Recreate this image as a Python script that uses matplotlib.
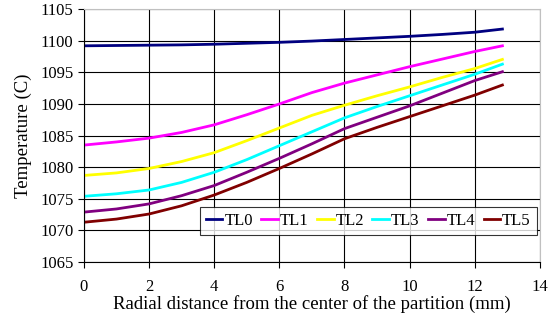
import matplotlib
matplotlib.use("Agg")
import matplotlib.pyplot as plt

plt.rcParams['font.family'] = ['Liberation Serif', 'DejaVu Serif']

# Radial distance (mm) and temperature series
x = [0, 1, 2, 3, 4, 5, 6, 7, 8, 9, 10, 11, 12, 12.85]
series = {
    "TL0": [1099.2, 1099.25, 1099.3, 1099.35, 1099.45, 1099.6, 1099.75, 1099.95, 1100.2, 1100.45, 1100.7, 1101.0, 1101.35, 1101.85],
    "TL1": [1083.5, 1084.0, 1084.6, 1085.5, 1086.7, 1088.3, 1090.0, 1091.8, 1093.3, 1094.6, 1095.9, 1097.1, 1098.3, 1099.2],
    "TL2": [1078.7, 1079.1, 1079.8, 1080.9, 1082.3, 1084.2, 1086.2, 1088.2, 1089.8, 1091.3, 1092.7, 1094.2, 1095.6, 1097.05],
    "TL3": [1075.4, 1075.8, 1076.4, 1077.6, 1079.2, 1081.2, 1083.4, 1085.6, 1087.8, 1089.6, 1091.3, 1093.0, 1094.7, 1096.3],
    "TL4": [1072.9, 1073.4, 1074.2, 1075.5, 1077.1, 1079.2, 1081.4, 1083.7, 1086.1, 1087.9, 1089.7, 1091.7, 1093.7, 1095.1],
    "TL5": [1071.3, 1071.8, 1072.6, 1073.9, 1075.6, 1077.6, 1079.8, 1082.1, 1084.5, 1086.3, 1088.0, 1089.7, 1091.4, 1093.0],
}
colors = ['#000080', '#FF00FF', '#FFFF00', '#00FFFF', '#800080', '#800000']

fig = plt.figure(figsize=(5.52, 3.15), dpi=100)
ax = fig.add_axes([0.152, 0.168, 0.826, 0.803])

for (name, vals), c in zip(series.items(), colors):
    ax.plot(x, vals, color=c, linewidth=2, label=name)

ax.set_xlim(0, 14)
ax.set_ylim(1065, 1105)
ax.set_xticks(range(0, 15, 2))
ax.set_yticks(range(1065, 1106, 5))
ax.grid(True, color='black', linewidth=0.8)
ax.set_axisbelow(True)

ax.spines['top'].set_color('#c0c0c0')
ax.spines['right'].set_color('#c0c0c0')
ax.tick_params(labelsize=12, direction='out', length=4, width=0.8)
ax.tick_params(axis='x', pad=8)

ax.set_xlabel('Radial distance from the center of the partition (mm)', fontsize=13.5, labelpad=0)
ax.set_ylabel('Temperature (C)', fontsize=13.5, labelpad=6)

leg = ax.legend(ncol=6, loc='lower right', bbox_to_anchor=(0.993, 0.107), fontsize=12,
                frameon=True, fancybox=False, handlelength=1.0, handletextpad=0.12,
                columnspacing=0.5, borderpad=0.35, borderaxespad=0)
leg.get_frame().set_edgecolor('black')
leg.get_frame().set_linewidth(0.8)

fig.savefig('out.png', dpi=100)
